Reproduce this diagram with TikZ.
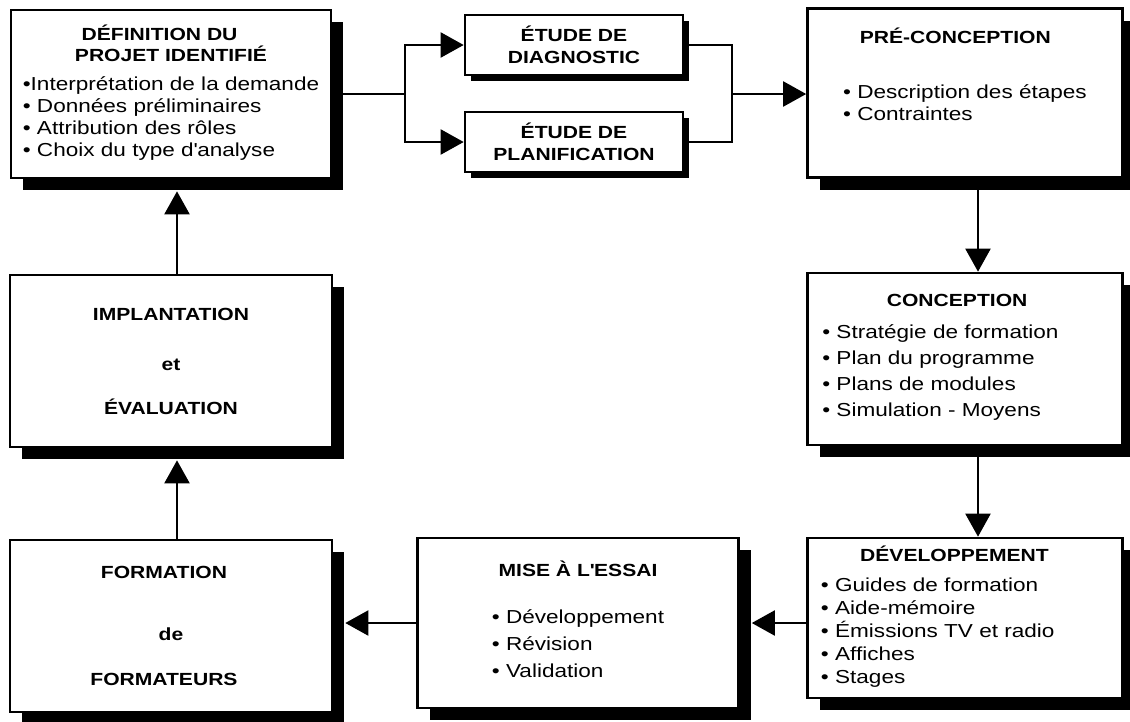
\documentclass[tikz,border=0pt]{standalone}
\usepackage{fontspec}
\setmainfont{Liberation Sans}[FakeStretch=1.2]
\usetikzlibrary{arrows.meta,shadows}

\newdimen\pix
\pix=0.02cm

% bullet lists, optional row stretch
\newcommand{\bul}[2][1]{{\fontsize{10.7}{12.5}\selectfont\renewcommand{\arraystretch}{#1}\begin{tabular}[t]{@{}l@{}}#2\end{tabular}}}

\tikzset{
    box/.style = {draw, line width=1.5pt, fill=white, align=center, inner sep=0pt},
    stage/.style = {box, drop shadow={shadow xshift=12\pix, shadow yshift=-12\pix, fill=black, opacity=1}},
    study/.style = {box, drop shadow={shadow xshift=6\pix, shadow yshift=-6\pix, fill=black, opacity=1}},
    link/.style = {line width=1.2pt},
    arr/.style = {link, -{Triangle[length=0.46cm, width=0.5cm]}}
}

\begin{document}
\begin{tikzpicture}[x=0.02cm, y=-0.02cm, font=\fontsize{10}{12.5}\selectfont]
    \useasboundingbox (0,0) rectangle (1130,721);

    % Top row
    \node[stage, minimum width=320\pix, minimum height=168\pix] (defn) at (171,94)
        {\textbf{DÉFINITION DU}\hspace*{13pt}\\[-1pt]\textbf{PROJET IDENTIFIÉ}\hspace*{13pt}\\[4pt]
         \bul{•Interprétation de la demande\\• Données préliminaires\\• Attribution des rôles\\• Choix du type d\textquotesingle analyse}};
    \node[study, minimum width=218\pix, minimum height=60\pix] (diag) at (574,45)
        {\textbf{ÉTUDE DE}\\\textbf{DIAGNOSTIC}};
    \node[study, minimum width=218\pix, minimum height=60\pix] (plan) at (574,142)
        {\textbf{ÉTUDE DE}\\\textbf{PLANIFICATION}};
    \node[stage, minimum width=315\pix, minimum height=169\pix] (precon) at (965,93)
        {\textbf{PRÉ-CONCEPTION}\hspace*{11pt}\\[19pt]
         \bul[0.96]{• Description des étapes\\• Contraintes}\hspace*{20pt}\\[17pt]\mbox{}};

    % Right column
    \node[stage, minimum width=315\pix, minimum height=172\pix] (concep) at (965,359)
        {\textbf{CONCEPTION}\hspace*{9pt}\\[6pt]
         \bul[1.18]{• Stratégie de formation\\• Plan du programme\\• Plans de modules\\• Simulation - Moyens}\hspace*{28pt}};
    \node[stage, minimum width=315\pix, minimum height=160\pix] (devel) at (965,618)
        {\textbf{DÉVELOPPEMENT}\hspace*{12pt}\\[4.5pt]
         \bul[1.05]{• Guides de formation\\• Aide-mémoire\\• Émissions TV et radio\\• Affiches\\• Stages}\hspace*{31pt}};

    % Bottom row and left column
    \node[stage, minimum width=321\pix, minimum height=170\pix] (mise) at (578,623)
        {\textbf{MISE À L\textquotesingle ESSAI}\\[14pt]
         \bul[1.23]{• Développement\\• Révision\\• Validation}};
    \node[stage, minimum width=322\pix, minimum height=172\pix] (form) at (171,626)
        {\textbf{FORMATION}\hspace*{8pt}\\[22.8pt]\textbf{de}\hspace*{8pt}\\[13.1pt]\textbf{FORMATEURS}\hspace*{8pt}};
    \node[stage, minimum width=322\pix, minimum height=172\pix] (impl) at (171,361)
        {\textbf{IMPLANTATION}\\[16pt]\textbf{et}\\[12.5pt]\textbf{ÉVALUATION}};

    % Split and join around the two studies
    \coordinate (split) at (405,94);
    \coordinate (join) at (732,94);
    \draw[link] (defn.east) -- (split);
    \draw[arr] (split) |- (diag.west);
    \draw[arr] (split) |- (plan.west);
    \draw[link] (diag.east) -| (join);
    \draw[link] (plan.east) -| (join);
    \draw[arr] (join) -- (join -| precon.west);

    % Flow round the cycle
    \draw[arr] ([xshift=13\pix]precon.south) -- ([xshift=13\pix]concep.north);
    \draw[arr] ([xshift=13\pix]concep.south) -- ([xshift=13\pix]devel.north);
    \draw[arr] (devel.west |- mise.east) -- ([xshift=12\pix]mise.east);
    \draw[arr] (mise.west) -- ([xshift=12\pix]mise.west -| form.east);
    \draw[arr] ([xshift=6\pix]form.north) -- ([xshift=6\pix, yshift=-12\pix]impl.south);
    \draw[arr] ([xshift=6\pix]impl.north) -- ([xshift=6\pix, yshift=-12\pix]defn.south);

\end{tikzpicture}
\end{document}
